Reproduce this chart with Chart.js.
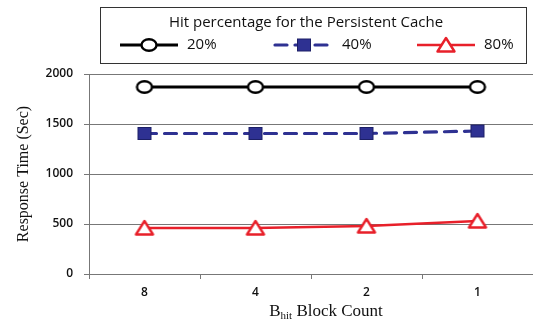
<!DOCTYPE html>
<html>
<head>
<title>Response Time vs Block Count</title>
<script src="https://cdn.jsdelivr.net/npm/chart.js"></script>
<style>
  body { margin: 0; background: #fff; }
  #wrap { width: 533px; height: 322px; }
</style>
</head>
<body>
<div id="wrap"><canvas id="chart" width="533" height="322"></canvas></div>
<script>
  // data
  const blockCounts = ['8', '4', '2', '1'];
  const hit20 = [1870, 1870, 1870, 1870];
  const hit40 = [1405, 1405, 1405, 1430];
  const hit80 = [460, 460, 480, 530];
  const seriesNames = ['20%', '40%', '80%'];
  const legendTitle = 'Hit percentage for the Persistent Cache';
  const yTitle = 'Response Time (Sec)';

  // marker images
  function makeMarker(w, h, draw) {
    const c = document.createElement('canvas');
    c.width = w; c.height = h;
    draw(c.getContext('2d'));
    return c;
  }
  const circleMark = makeMarker(20, 16, g => {
    g.beginPath();
    g.ellipse(10, 8, 7.5, 5.8, 0, 0, Math.PI * 2);
    g.fillStyle = '#fff'; g.fill();
    g.lineWidth = 2.4; g.strokeStyle = '#000'; g.stroke();
  });
  const squareMark = makeMarker(18, 17, g => {
    g.fillStyle = '#2E3192';
    g.fillRect(2, 2, 14, 13);
    g.lineWidth = 1; g.strokeStyle = '#1c1f66';
    g.strokeRect(2.5, 2.5, 13, 12);
  });
  const triMark = makeMarker(22, 18, g => {
    g.beginPath();
    g.moveTo(11, 2); g.lineTo(19.5, 15.5); g.lineTo(2.5, 15.5); g.closePath();
    g.fillStyle = '#fff'; g.fill();
    g.lineWidth = 2.4; g.lineJoin = 'round'; g.strokeStyle = '#E8202A'; g.stroke();
  });

  const datasets = [{
    label: seriesNames[0], data: hit20,
    borderColor: '#000', borderWidth: 3.2,
    pointStyle: circleMark, marker: circleMark
  }, {
    label: seriesNames[1], data: hit40,
    borderColor: '#2E3192', borderWidth: 3.2, borderDash: [12, 8], borderCapStyle: 'round',
    pointStyle: squareMark, marker: squareMark
  }, {
    label: seriesNames[2], data: hit80,
    borderColor: '#E8202A', borderWidth: 2.6,
    pointStyle: triMark, marker: triMark
  }];

  // boxed legend with title, line + marker samples
  const boxLegend = {
    id: 'boxLegend',
    afterDraw(chart) {
      const g = chart.ctx;
      g.save();
      g.strokeStyle = '#333'; g.lineWidth = 1;
      g.strokeRect(100.5, 7.5, 426, 56);
      g.fillStyle = '#111';
      g.font = '15px "Open Sans"';
      g.textAlign = 'center'; g.textBaseline = 'middle';
      g.fillText(legendTitle, 306, 23);
      const starts = [120, 275, 417];
      chart.data.datasets.forEach((ds, i) => {
        const x0 = starts[i], y = 45;
        g.beginPath();
        g.setLineDash(ds.borderDash || []);
        g.lineCap = ds.borderCapStyle || 'butt';
        g.strokeStyle = ds.borderColor; g.lineWidth = ds.borderWidth;
        g.moveTo(x0, y); g.lineTo(x0 + 58, y); g.stroke();
        g.setLineDash([]);
        const m = ds.marker;
        g.drawImage(m, x0 + 29 - m.width / 2, y - m.height / 2);
        g.fillStyle = '#111'; g.textAlign = 'left';
        g.font = '15px "Open Sans"';
        g.fillText(ds.label, x0 + 67, y);
      });
      // x axis title with subscript
      g.fillStyle = '#111'; g.textBaseline = 'alphabetic'; g.textAlign = 'left';
      const big = '17px "Liberation Serif"', small = '11px "Liberation Serif"';
      g.font = big; const wB = g.measureText('B').width, wRest = g.measureText(' Block Count').width;
      g.font = small; const wSub = g.measureText('hit').width;
      let x = 326 - (wB + wSub + wRest) / 2, yb = 316;
      g.font = big; g.fillText('B', x, yb); x += wB;
      g.font = small; g.fillText('hit', x, yb + 3); x += wSub;
      g.font = big; g.fillText(' Block Count', x, yb);
      g.restore();
    }
  };

  new Chart(document.getElementById('chart'), {
    type: 'line',
    data: { labels: blockCounts, datasets: datasets },
    options: {
      responsive: false,
      animation: false,
      layout: { autoPadding: false, padding: { top: 74, left: 0, right: 0, bottom: 0 } },
      elements: {
        line: { tension: 0, fill: false },
        point: { radius: 8, hoverRadius: 8 }
      },
      plugins: { legend: { display: false }, tooltip: { enabled: false } },
      scales: {
        x: {
          offset: true,
          grid: { display: true, offset: true, drawOnChartArea: false, drawTicks: true, tickLength: 5, color: '#777' },
          border: { color: '#777', width: 1 },
          ticks: { color: '#111', font: { family: 'Open Sans', size: 12, weight: '600' }, padding: 6 },
          afterFit(s) { s.height = 48; s.paddingLeft = 0; s.paddingRight = 0; }
        },
        y: {
          min: 0, max: 2000,
          ticks: {
            stepSize: 500, color: '#111', padding: 11,
            font: { family: 'Open Sans', size: 12, weight: '600' },
            callback: v => String(v)
          },
          grid: { color: '#777', lineWidth: 1, tickLength: 5 },
          border: { color: '#777', width: 1 },
          title: { display: true, text: yTitle, color: '#111', font: { family: 'Liberation Serif', size: 16 }, padding: { top: 14, bottom: 0 } },
          afterFit(s) { s.width = 89; }
        }
      }
    },
    plugins: [boxLegend]
  });
</script>
</body>
</html>
